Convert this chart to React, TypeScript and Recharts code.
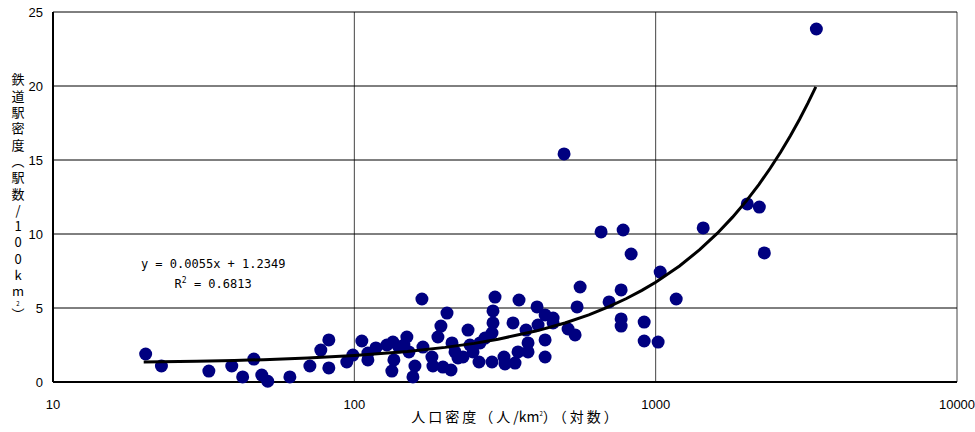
import { ScatterChart, Scatter, XAxis, YAxis, CartesianGrid, ReferenceDot } from "recharts";

// 人口密度 (人/km2) と 鉄道駅密度 (駅数/100km2)
const popDensity = [
  20.3, 22.9, 32.9, 39.2, 42.6, 46.4, 49.3, 51.6, 61.1, 71.2, 77.4, 82.3, 82.3, 94.4, 98.9,
  105.9, 110.9, 110.9, 117.9, 128.2, 134.3, 135.3, 133.2, 140.5, 149.4, 146.1, 151.8, 158.9, 156.5,
  167.6, 168.9, 180.9, 182.3, 189.4, 193.8, 203.0, 196.8, 209.3, 210.9, 215.8, 220.8, 229.4, 238.4,
  242.0, 247.7, 259.3, 261.2, 271.4, 286.3, 288.5, 288.5, 293.0, 286.3, 313.8, 316.2, 336.2, 341.4,
  352.0, 349.3, 371.4, 377.1, 404.0, 429.6, 456.7, 456.7, 407.1, 429.6, 429.6, 377.1, 496.6, 512.1,
  540.3, 548.6, 561.4, 659.0, 700.5, 768.1, 768.1, 768.1, 779.9, 829.0, 915.9, 915.9, 1019, 1035,
  1170, 1438, 2014, 2208, 2294, 3414,
];
const stationDensity = [
  1.89, 1.08, 0.74, 1.08, 0.34, 1.55, 0.47, 0.05, 0.34, 1.08, 2.16, 2.84, 0.95, 1.35, 1.82,
  2.77, 1.49, 1.96, 2.30, 2.50, 2.70, 1.49, 0.74, 2.36, 3.04, 2.50, 2.03, 1.08, 0.34,
  5.61, 2.36, 1.69, 1.08, 3.04, 3.78, 4.66, 1.01, 0.81, 2.64, 2.03, 1.62, 1.69, 3.51,
  2.50, 2.03, 1.35, 2.64, 2.97, 1.35, 3.99, 4.80, 5.74, 3.31, 1.69, 1.22, 3.99, 1.28,
  5.54, 2.03, 3.51, 2.64, 5.07, 4.53, 4.32, 3.99, 3.85, 2.84, 1.69, 2.03, 15.41, 3.58,
  3.18, 5.07, 6.42, 10.14, 5.41, 6.22, 4.26, 3.78, 10.27, 8.65, 4.05, 2.77, 2.70, 7.43,
  5.61, 10.41, 12.03, 11.82, 8.72, 23.85,
];

// 線形近似 y = 0.0055x + 1.2349 (片対数軸上で曲線に見える)
const trendX = [20, 30, 40, 50, 70, 100, 150, 200, 250, 300, 400, 500, 600, 700, 800, 900, 1000,
  1200, 1400, 1600, 1800, 2000, 2200, 2400, 2600, 2800, 3000, 3200, 3400];
const trendY = [1.35, 1.40, 1.46, 1.51, 1.62, 1.79, 2.06, 2.34, 2.61, 2.89, 3.44, 3.99, 4.54, 5.09,
  5.64, 6.19, 6.74, 7.84, 8.94, 10.04, 11.14, 12.24, 13.34, 14.44, 15.54, 16.64, 17.74, 18.84, 19.94];

const xTicks = [10, 100, 1000, 10000];
const yTicks = [0, 5, 10, 15, 20, 25];
const yLabelHead = "鉄道駅密度（駅数/100km";
const yLabelTail = "）";
const xLabelHead = "人口密度（人";
const xLabelUnit = "/km";
const xLabelTail = "）（対数）";
const eqLine = "y = 0.0055x + 1.2349";
const r2Value = " = 0.6813";

const points = popDensity.map((x, i) => ({ x, y: stationDensity[i] }));
const trend = trendX.map((x, i) => ({ x, y: trendY[i] }));

const numFont = "'Liberation Sans', Arial, sans-serif";
const jpFont = "'Noto Sans CJK JP', sans-serif";

function Dot(props: any) {
  if (props.cx == null || props.cy == null) return null;
  return <circle cx={props.cx} cy={props.cy} r={6.5} fill="#000080" />;
}

// 縦書きラベル (一つのtext要素で縦組み)
function YLabel({ viewBox }: any) {
  return (
    <text x={viewBox.x + 18} y={viewBox.y + 61} fontFamily={jpFont} fontSize={13} fill="#000"
      letterSpacing={3.3} style={{ writingMode: "vertical-rl", textOrientation: "upright" }}>
      {yLabelHead}
      <tspan fontSize={6} letterSpacing={0}>2</tspan>
      {yLabelTail}
    </text>
  );
}

function XLabel({ viewBox }: any) {
  return (
    <text x={viewBox.x + viewBox.width / 2 + 11} y={viewBox.y + 40} textAnchor="middle"
      fontFamily={jpFont} fontSize={14} fill="#000">
      <tspan letterSpacing={3}>{xLabelHead}</tspan>
      <tspan>{xLabelUnit}</tspan>
      <tspan fontSize={6} dy={-6}>2</tspan>
      <tspan dy={6} letterSpacing={3}>{xLabelTail}</tspan>
    </text>
  );
}

function Equation({ viewBox }: any) {
  const x = viewBox.x;
  const y = viewBox.y;
  return (
    <g fontFamily="'DejaVu Sans Mono', monospace" fontSize={12} fill="#000">
      <text x={x} y={y + 4} textAnchor="middle">{eqLine}</text>
      <text x={x} y={y + 24} textAnchor="middle">
        R<tspan fontSize={8} dy={-5}>2</tspan><tspan dy={5}>{r2Value}</tspan>
      </text>
    </g>
  );
}

export default function App() {
  return (
    <div style={{ position: "absolute", left: 0, top: 0, background: "#fff" }}>
      <ScatterChart width={975} height={432} margin={{ top: 12, right: 18, bottom: 0, left: 0 }}>
        <CartesianGrid horizontal={false} stroke="#444" strokeWidth={1} />
        <CartesianGrid vertical={false} stroke="#000" strokeWidth={1} />
        <XAxis type="number" dataKey="x" scale="log" domain={[10, 10000]} ticks={xTicks}
          allowDataOverflow height={50} tickLine={false} tickMargin={12}
          axisLine={{ stroke: "#000", strokeWidth: 2 }}
          tick={{ fill: "#000", fontSize: 13, fontFamily: numFont }} label={<XLabel />} />
        <YAxis type="number" dataKey="y" domain={[0, 25]} ticks={yTicks} width={53}
          tickLine={false} tickMargin={4} axisLine={{ stroke: "#000", strokeWidth: 2 }}
          tick={{ fill: "#000", fontSize: 13, fontFamily: numFont }} label={<YLabel />} />
        <Scatter data={points} fill="#000080" shape={<Dot />} isAnimationActive={false} />
        <Scatter data={trend} line={{ stroke: "#000", strokeWidth: 3 }} lineType="joint"
          shape={() => null} isAnimationActive={false} />
        <ReferenceDot x={34} y={8.0} r={0} fill="none" stroke="none" label={<Equation />} />
      </ScatterChart>
    </div>
  );
}
